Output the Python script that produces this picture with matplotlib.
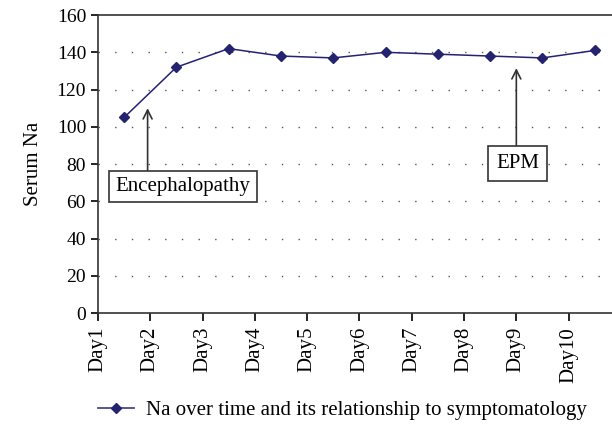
import matplotlib.pyplot as plt
from matplotlib.lines import Line2D

days = ["Day1", "Day2", "Day3", "Day4", "Day5", "Day6", "Day7", "Day8", "Day9", "Day10"]
serum_na = [105, 132, 142, 138, 137, 140, 139, 138, 137, 141]
series_label = "Na over time and its relationship to symptomatology"

plt.rcParams["font.family"] = ["Liberation Serif", "DejaVu Serif"]
navy = "#232370"
dark = "#333333"

fig = plt.figure(figsize=(6.12, 4.25), dpi=100)
ax = fig.add_axes([0.160, 0.2635, 0.8546, 0.701])

xs = [i + 0.5 for i in range(len(serum_na))]
ax.plot(xs, serum_na, color=navy, lw=1.1, marker="D", ms=5.5, zorder=3)

ax.set_xlim(0, 10)
ax.set_ylim(0, 160)
ax.set_yticks(range(0, 161, 20))
ax.set_xticks(range(len(days)))
ax.set_xticklabels(days, rotation=90, fontsize=15)
ax.tick_params(axis="y", labelsize=14, length=5, width=1.2, direction="out")
ax.tick_params(axis="x", length=6, width=1.2, direction="out", pad=4)

for y in range(20, 160, 20):
    ax.axhline(y, color="#555555", lw=1.0, ls=(0, (1, 11)), zorder=1)

for side in ["left", "bottom", "top"]:
    ax.spines[side].set_linewidth(1.2)
    ax.spines[side].set_color(dark)
ax.spines["right"].set_visible(False)

ax.set_ylabel("Serum Na", fontsize=15, labelpad=10)

box = dict(boxstyle="square,pad=0.3", fc="white", ec=dark, lw=1.2)
arrow = dict(arrowstyle="->", color=dark, lw=1.2, shrinkA=0, shrinkB=0,
             mutation_scale=16)

ax.annotate("", xy=(0.95, 110), xytext=(0.95, 76), arrowprops=arrow)
ax.text(1.625, 68, "Encephalopathy", ha="center", va="center",
        fontsize=15, bbox=box, zorder=4)

ax.annotate("", xy=(8.0, 131.5), xytext=(8.0, 89), arrowprops=arrow)
ax.text(8.03, 80.5, "EPM", ha="center", va="center",
        fontsize=15, bbox=dict(boxstyle="square,pad=0.38", fc="white", ec=dark, lw=1.2),
        zorder=4)

handle = Line2D([], [], color="#4a4a88", lw=1.3, marker="D", ms=5,
                markerfacecolor=navy, markeredgecolor=navy)
fig.legend([handle], [series_label], loc="center left",
           bbox_to_anchor=(0.13, 0.035), frameon=False, fontsize=15,
           handlelength=1.7, handletextpad=0.6)

fig.savefig("out.png", dpi=100)
